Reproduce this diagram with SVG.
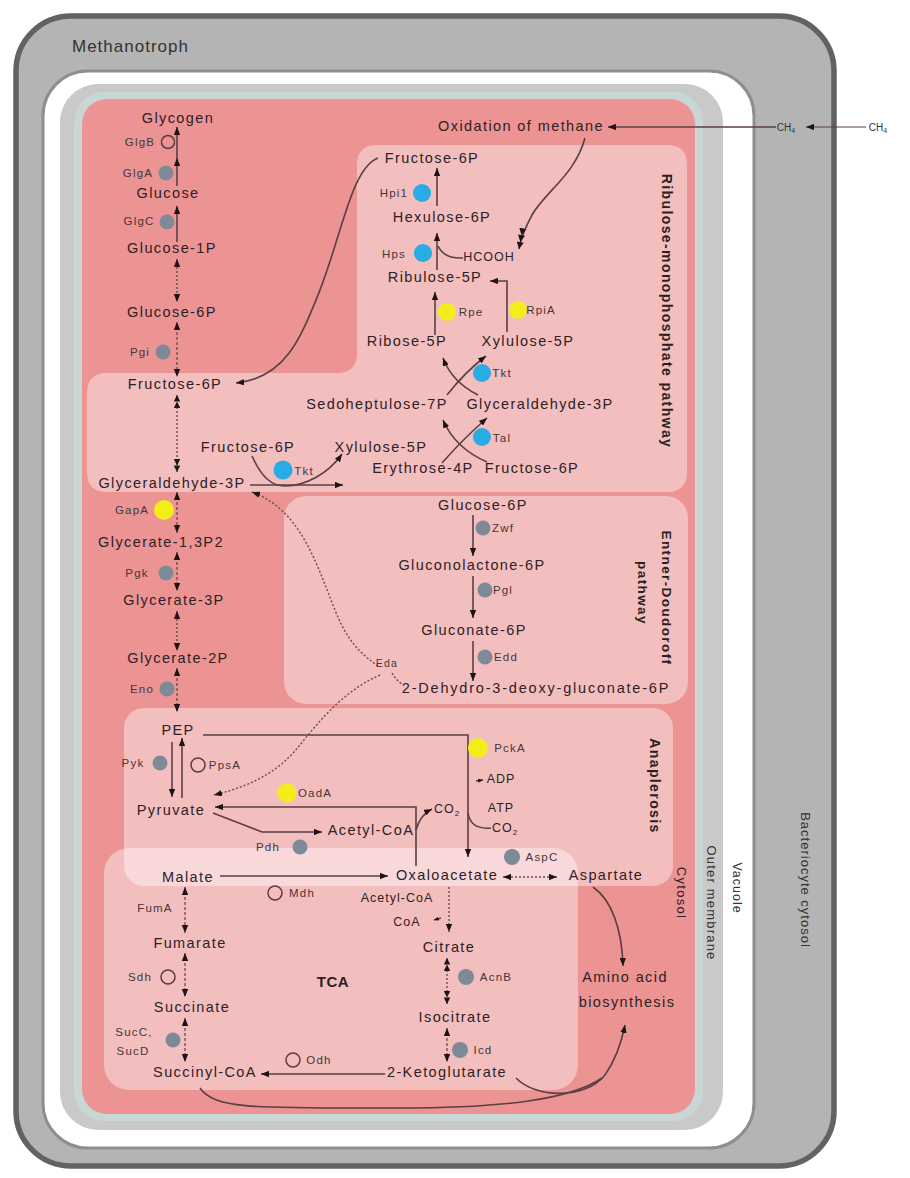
<svg xmlns="http://www.w3.org/2000/svg" width="910" height="1178" viewBox="0 0 910 1178">
<style>
text{font-family:"Liberation Sans",Arial,sans-serif}
.m{font-size:14.5px;letter-spacing:1.4px;fill:#2e2226;text-anchor:middle}
.e{font-size:11.5px;letter-spacing:1.2px;fill:#46363a;text-anchor:middle}
.s{font-size:12.5px;letter-spacing:1px;fill:#2e2226;text-anchor:middle}
.p{font-size:14px;font-weight:bold;letter-spacing:1.4px;fill:#2a1f22;text-anchor:middle}
.r{font-size:13px;letter-spacing:1.3px;fill:#333;text-anchor:middle}
.ln{fill:none;stroke:#5a3f43;stroke-width:1.6}
.dt{fill:none;stroke:#6a4a4e;stroke-width:1.4;stroke-dasharray:2 2}
.dh{fill:none;stroke:#7a5055;stroke-width:1.4;stroke-dasharray:3 2}
.gr{fill:#7e8a97}
.bl{fill:#27ace4}
.yl{fill:#f3ee1a}
.op{fill:none;stroke:#5a3c40;stroke-width:1.5}
.box{fill:#ffffff;fill-opacity:0.4}
</style>
<defs>
<marker id="ah" viewBox="0 0 10 8" refX="10" refY="4" markerWidth="8" markerHeight="6.4" markerUnits="userSpaceOnUse" orient="auto-start-reverse"><path d="M0,0 L10,4 L0,8 z" fill="#1e1416"/></marker>
<marker id="ah2" viewBox="0 0 16 8" refX="16" refY="4" markerWidth="13" markerHeight="6.5" markerUnits="userSpaceOnUse" orient="auto-start-reverse"><path d="M0,0 L8,4 L0,8 z M8,0 L16,4 L8,8 z" fill="#1e1416"/></marker>
<marker id="ah3" viewBox="0 0 24 8" refX="24" refY="4" markerWidth="21" markerHeight="7" markerUnits="userSpaceOnUse" orient="auto"><path d="M0,0 L8,4 L0,8 z M8,0 L16,4 L8,8 z M16,0 L24,4 L16,8 z" fill="#1e1416"/></marker>
<marker id="sm" viewBox="0 0 10 8" refX="10" refY="4" markerWidth="5" markerHeight="4" markerUnits="userSpaceOnUse" orient="auto"><path d="M0,0 L10,4 L0,8 z" fill="#1e1416"/></marker>
</defs>

<!-- compartments -->
<g id="compartments">
<rect x="16" y="16" width="818" height="1150" rx="55" fill="#b4b4b4" stroke="#626262" stroke-width="5.5"/>
<rect x="43" y="71" width="711" height="1077" rx="45" fill="#ffffff" stroke="#8e8e8e" stroke-width="3"/>
<rect x="60" y="84" width="663" height="1046" rx="38" fill="#c9c9c9"/>
<rect x="74" y="92" width="629" height="1029" rx="30" fill="#c8d6d6"/>
<rect x="82" y="99" width="613" height="1015" rx="25" fill="#ec9393"/>
<path class="box" d="M377,145 H667 Q687,145 687,165 V472 Q687,492 667,492 H107 Q87,492 87,472 V393 Q87,373 107,373 H337 Q357,373 357,353 V165 Q357,145 377,145 Z"/>
<rect class="box" x="284" y="496" width="404" height="208" rx="22"/>
<rect class="box" x="124" y="708" width="549" height="178" rx="20"/>
<rect class="box" x="104" y="848" width="474" height="242" rx="25"/>
<text x="72" y="52" style="font-size:17px;letter-spacing:1px;fill:#333">Methanotroph</text>
<text class="r" transform="translate(806,880) rotate(90)" dy=".35em" style="letter-spacing:1px">Bacteriocyte cytosol</text>
<text class="r" transform="translate(737,888) rotate(90)" dy=".35em" style="font-size:12.5px;letter-spacing:1px">Vacuole</text>
<text class="r" transform="translate(712,903) rotate(90)" dy=".35em" style="letter-spacing:1.2px">Outer membrane</text>
<text class="r" transform="translate(682,893) rotate(90)" dy=".35em" style="fill:#2e2226">Cytosol</text>
<text class="p" transform="translate(667,311) rotate(90)" dy=".35em">Ribulose-monophosphate pathway</text>
<text class="p" transform="translate(667,598) rotate(90)" dy=".35em" style="font-size:13.5px">Entner-Doudoroff</text>
<text class="p" transform="translate(643,593) rotate(90)" dy=".35em" style="font-size:13.5px">pathway</text>
<text class="p" transform="translate(655,786) rotate(90)" dy=".35em">Anaplerosis</text>
<text class="p" x="333" y="987" style="font-size:15px;letter-spacing:0.5px">TCA</text>
</g>

<!-- connectors -->
<g id="connectors">
<path class="ln" d="M177,186 V158" marker-end="url(#ah)"/>
<path class="ln" d="M177,158 V127" marker-end="url(#ah)"/>
<path class="ln" d="M177,242 V206" marker-end="url(#ah)"/>
<path class="dt" d="M177,259 V302" marker-start="url(#ah)" marker-end="url(#ah)"/>
<path class="dh" d="M177,322 V377" marker-start="url(#ah)" marker-end="url(#ah)"/>
<path class="dt" d="M177,395 V472" marker-start="url(#ah2)" marker-end="url(#ah2)"/>
<path class="dh" d="M177,492 V533" marker-start="url(#ah)" marker-end="url(#ah)"/>
<path class="dh" d="M177,552 V591" marker-start="url(#ah)" marker-end="url(#ah)"/>
<path class="dt" d="M177,611 V651" marker-start="url(#ah)" marker-end="url(#ah)"/>
<path class="dh" d="M177,668 V712" marker-start="url(#ah)" marker-end="url(#ah)"/>
<path class="ln" d="M172,742 V797" marker-end="url(#ah)"/>
<path class="ln" d="M182,798 V738" marker-end="url(#ah)"/>
<path class="ln" d="M203,735 H468 V857" marker-end="url(#ah)"/>
<path class="ln" d="M476,781 L483,780" marker-end="url(#sm)"/>
<path class="ln" d="M468,813 C470,826 480,829 491,828"/>
<path class="ln" d="M416,866 V807 H215" marker-end="url(#ah)"/>
<path class="ln" d="M416,830 Q420,815 432,809" marker-end="url(#ah)"/>
<path class="ln" d="M213,813 L262,832 H322" marker-end="url(#ah)"/>
<path class="dt" d="M380,675 C345,690 320,720 300,745 C280,770 255,785 214,795" marker-end="url(#ah)"/>
<path class="dt" d="M378,666 C355,650 345,635 335,610 C315,560 300,510 252,492" marker-end="url(#ah)"/>
<path class="dt" d="M392,673 Q396,680 402,684"/>
<path class="ln" d="M473,515 V556" marker-end="url(#ah)"/>
<path class="ln" d="M473,576 V618" marker-end="url(#ah)"/>
<path class="ln" d="M473,641 V681" marker-end="url(#ah)"/>
<path class="ln" d="M220,876 H388" marker-end="url(#ah)"/>
<path class="dt" d="M503,877 H557" marker-start="url(#ah)" marker-end="url(#ah)"/>
<path class="dt" d="M449,887 V932" marker-end="url(#ah)"/>
<path class="ln" d="M441,918 L434,920" marker-end="url(#sm)"/>
<path class="dt" d="M447,958 V1004" marker-start="url(#ah2)" marker-end="url(#ah2)"/>
<path class="dh" d="M447,1028 V1062" marker-start="url(#ah)" marker-end="url(#ah)"/>
<path class="ln" d="M385,1074 H261" marker-end="url(#ah)"/>
<path class="dh" d="M185,1018 V1062" marker-start="url(#ah)" marker-end="url(#ah)"/>
<path class="dh" d="M185,953 V997" marker-start="url(#ah)" marker-end="url(#ah)"/>
<path class="dh" d="M185,887 V933" marker-start="url(#ah)" marker-end="url(#ah)"/>
<path class="ln" d="M593,887 C612,900 622,930 623,966" marker-end="url(#ah)"/>
<path class="ln" d="M516,1078 C535,1098 585,1100 605,1075 C614,1062 621,1045 625,1025" marker-end="url(#ah)"/>
<path class="ln" d="M200,1088 C215,1110 260,1108 400,1108 C500,1108 570,1100 602,1078"/>
<path class="ln" d="M866,127 H806" marker-end="url(#ah)" style="stroke-width:1"/>
<path class="ln" d="M776,127 H608" marker-end="url(#ah)"/>
<path class="ln" d="M585,138 C575,175 545,192 532,215 C525,228 521,238 519,249" marker-end="url(#ah3)"/>
<path class="ln" d="M463,258 Q444,259 438,246"/>
<path class="ln" d="M437,206 V168" marker-end="url(#ah)"/>
<path class="ln" d="M437,270 V233" marker-end="url(#ah)"/>
<path class="ln" d="M435,335 V292" marker-end="url(#ah)"/>
<path class="ln" d="M507,332 V281 H490" marker-end="url(#ah)"/>
<path class="ln" d="M378,158 C352,168 343,230 320,290 C300,340 285,378 236,383" marker-end="url(#ah)"/>
<path class="ln" d="M478,395 Q452,382 443,358" marker-end="url(#ah)"/>
<path class="ln" d="M447,395 Q465,372 486,356" marker-end="url(#ah)"/>
<path class="ln" d="M487,462 Q455,448 443,420" marker-end="url(#ah)"/>
<path class="ln" d="M442,463 Q462,440 487,418" marker-end="url(#ah)"/>
<path class="ln" d="M250,485 H343" marker-end="url(#ah)"/>
<path class="ln" d="M252,456 C262,478 272,486 285,486 C305,486 328,474 342,454" marker-end="url(#ah)"/>
</g>

<!-- metabolites -->
<g id="n-glycogen"><text class="m" x="178" y="123">Glycogen</text></g>
<g id="n-glucose"><text class="m" x="168" y="198">Glucose</text></g>
<g id="n-glucose1p"><text class="m" x="172" y="253">Glucose-1P</text></g>
<g id="n-glucose6p"><text class="m" x="172" y="317">Glucose-6P</text></g>
<g id="n-fructose6p"><text class="m" x="175" y="389">Fructose-6P</text></g>
<g id="n-g3p"><text class="m" x="172" y="488">Glyceraldehyde-3P</text></g>
<g id="n-g13p2"><text class="m" x="161" y="547">Glycerate-1,3P2</text></g>
<g id="n-g3pa"><text class="m" x="174" y="605">Glycerate-3P</text></g>
<g id="n-g2p"><text class="m" x="178" y="663">Glycerate-2P</text></g>
<g id="n-pep"><text class="m" x="178" y="735">PEP</text></g>
<g id="n-pyruvate"><text class="m" x="171" y="815">Pyruvate</text></g>
<g id="n-accoa1"><text class="m" x="371" y="835">Acetyl-CoA</text></g>
<g id="n-malate"><text class="m" x="188" y="882">Malate</text></g>
<g id="n-oaa"><text class="m" x="447" y="880">Oxaloacetate</text></g>
<g id="n-aspartate"><text class="m" x="606" y="880">Aspartate</text></g>
<g id="n-accoa2"><text class="s" x="397" y="902">Acetyl-CoA</text></g>
<g id="n-coa"><text class="s" x="407" y="926">CoA</text></g>
<g id="n-citrate"><text class="m" x="449" y="952">Citrate</text></g>
<g id="n-isocitrate"><text class="m" x="455" y="1022">Isocitrate</text></g>
<g id="n-akg"><text class="m" x="447" y="1077">2-Ketoglutarate</text></g>
<g id="n-succoa"><text class="m" x="205" y="1077">Succinyl-CoA</text></g>
<g id="n-succinate"><text class="m" x="192" y="1012">Succinate</text></g>
<g id="n-fumarate"><text class="m" x="190" y="948">Fumarate</text></g>
<g id="n-amino"><text class="m" x="625" y="982">Amino acid</text><text class="m" x="627" y="1007">biosynthesis</text></g>
<g id="n-oxmeth"><text class="m" x="521" y="131">Oxidation of methane</text></g>
<g id="n-ch4a"><text x="786" y="131" style="font-size:10px;fill:#333;text-anchor:middle">CH<tspan dy="2" style="font-size:7px">4</tspan></text></g>
<g id="n-ch4b"><text x="878" y="131" style="font-size:10px;fill:#333;text-anchor:middle">CH<tspan dy="2" style="font-size:7px">4</tspan></text></g>
<g id="n-f6pr"><text class="m" x="432" y="163">Fructose-6P</text></g>
<g id="n-hexulose"><text class="m" x="442" y="222">Hexulose-6P</text></g>
<g id="n-hcooh"><text class="s" x="489" y="261">HCOOH</text></g>
<g id="n-ribulose"><text class="m" x="435" y="282">Ribulose-5P</text></g>
<g id="n-ribose"><text class="m" x="407" y="346">Ribose-5P</text></g>
<g id="n-xylulose"><text class="m" x="528" y="346">Xylulose-5P</text></g>
<g id="n-sedo"><text class="m" x="377" y="409">Sedoheptulose-7P</text></g>
<g id="n-g3pr"><text class="m" x="540" y="409">Glyceraldehyde-3P</text></g>
<g id="n-eryth"><text class="m" x="423" y="473">Erythrose-4P</text></g>
<g id="n-f6pr2"><text class="m" x="532" y="473">Fructose-6P</text></g>
<g id="n-f6pb"><text class="m" x="248" y="452">Fructose-6P</text></g>
<g id="n-xylb"><text class="m" x="381" y="452">Xylulose-5P</text></g>
<g id="n-g6ped"><text class="m" x="483" y="510">Glucose-6P</text></g>
<g id="n-gluconolactone"><text class="m" x="472" y="570">Gluconolactone-6P</text></g>
<g id="n-gluconate"><text class="m" x="474" y="635">Gluconate-6P</text></g>
<g id="n-kdpg"><text class="m" x="536" y="693" style="letter-spacing:1.8px">2-Dehydro-3-deoxy-gluconate-6P</text></g>
<g id="n-eda"><text class="e" x="387" y="667" style="font-size:10.5px">Eda</text></g>
<g id="n-adp"><text class="s" x="501" y="783">ADP</text></g>
<g id="n-atp"><text class="s" x="501" y="812">ATP</text></g>
<g id="n-co2a"><text class="s" x="505" y="832">CO<tspan dy="3" style="font-size:8px">2</tspan></text></g>
<g id="n-co2b"><text class="s" x="447" y="813">CO<tspan dy="3" style="font-size:8px">2</tspan></text></g>

<!-- enzymes -->
<g id="e-glgb"><circle class="op" cx="168" cy="142" r="6.5"/><text class="e" x="140" y="146">GlgB</text></g>
<g id="e-glga"><circle class="gr" cx="166" cy="173" r="7.5"/><text class="e" x="138" y="177">GlgA</text></g>
<g id="e-glgc"><circle class="gr" cx="167" cy="222" r="7.5"/><text class="e" x="139" y="225">GlgC</text></g>
<g id="e-pgi"><circle class="gr" cx="163" cy="352" r="7.5"/><text class="e" x="140" y="356">Pgi</text></g>
<g id="e-gapa"><circle class="yl" cx="164" cy="510" r="10"/><text class="e" x="132" y="514">GapA</text></g>
<g id="e-pgk"><circle class="gr" cx="166" cy="573" r="7.5"/><text class="e" x="137" y="577">Pgk</text></g>
<g id="e-eno"><circle class="gr" cx="167" cy="689" r="7.5"/><text class="e" x="142" y="693">Eno</text></g>
<g id="e-pyk"><circle class="gr" cx="160" cy="763" r="7.5"/><text class="e" x="133" y="767">Pyk</text></g>
<g id="e-ppsa"><circle class="op" cx="198" cy="765" r="7"/><text class="e" x="225" y="769">PpsA</text></g>
<g id="e-oada"><circle class="yl" cx="287" cy="793" r="9.5"/><text class="e" x="315" y="797">OadA</text></g>
<g id="e-pdh"><circle class="gr" cx="300" cy="847" r="7.5"/><text class="e" x="268" y="851">Pdh</text></g>
<g id="e-pcka"><circle class="yl" cx="478" cy="748" r="10"/><text class="e" x="510" y="752">PckA</text></g>
<g id="e-aspc"><circle class="gr" cx="512" cy="857" r="8"/><text class="e" x="542" y="861">AspC</text></g>
<g id="e-mdh"><circle class="op" cx="275" cy="893" r="7"/><text class="e" x="302" y="897">Mdh</text></g>
<g id="e-fuma"><text class="e" x="155" y="912">FumA</text></g>
<g id="e-sdh"><circle class="op" cx="168" cy="977" r="7"/><text class="e" x="140" y="981">Sdh</text></g>
<g id="e-suc"><circle class="gr" cx="173" cy="1040" r="7.5"/><text class="e" x="134" y="1036">SucC,</text><text class="e" x="133" y="1055">SucD</text></g>
<g id="e-odh"><circle class="op" cx="293" cy="1060" r="7"/><text class="e" x="319" y="1064">Odh</text></g>
<g id="e-acnb"><circle class="gr" cx="466" cy="977" r="8"/><text class="e" x="496" y="981">AcnB</text></g>
<g id="e-icd"><circle class="gr" cx="460" cy="1050" r="8"/><text class="e" x="483" y="1054">Icd</text></g>
<g id="e-zwf"><circle class="gr" cx="483" cy="528" r="7.5"/><text class="e" x="503" y="532">Zwf</text></g>
<g id="e-pgl"><circle class="gr" cx="485" cy="590" r="7.5"/><text class="e" x="503" y="594">Pgl</text></g>
<g id="e-edd"><circle class="gr" cx="485" cy="657" r="7.5"/><text class="e" x="506" y="661">Edd</text></g>
<g id="e-hpi1"><circle class="bl" cx="422" cy="193" r="9"/><text class="e" x="394" y="197">Hpi1</text></g>
<g id="e-hps"><circle class="bl" cx="423" cy="253" r="9"/><text class="e" x="394" y="258">Hps</text></g>
<g id="e-rpe"><circle class="yl" cx="447" cy="312" r="9"/><text class="e" x="471" y="316">Rpe</text></g>
<g id="e-rpia"><circle class="yl" cx="518" cy="310" r="9"/><text class="e" x="541" y="314">RpiA</text></g>
<g id="e-tkt1"><circle class="bl" cx="482" cy="373" r="9"/><text class="e" x="502" y="377">Tkt</text></g>
<g id="e-tal"><circle class="bl" cx="482" cy="437" r="9"/><text class="e" x="502" y="442">Tal</text></g>
<g id="e-tkt2"><circle class="bl" cx="283" cy="470" r="9.5"/><text class="e" x="304" y="475">Tkt</text></g>
</svg>
